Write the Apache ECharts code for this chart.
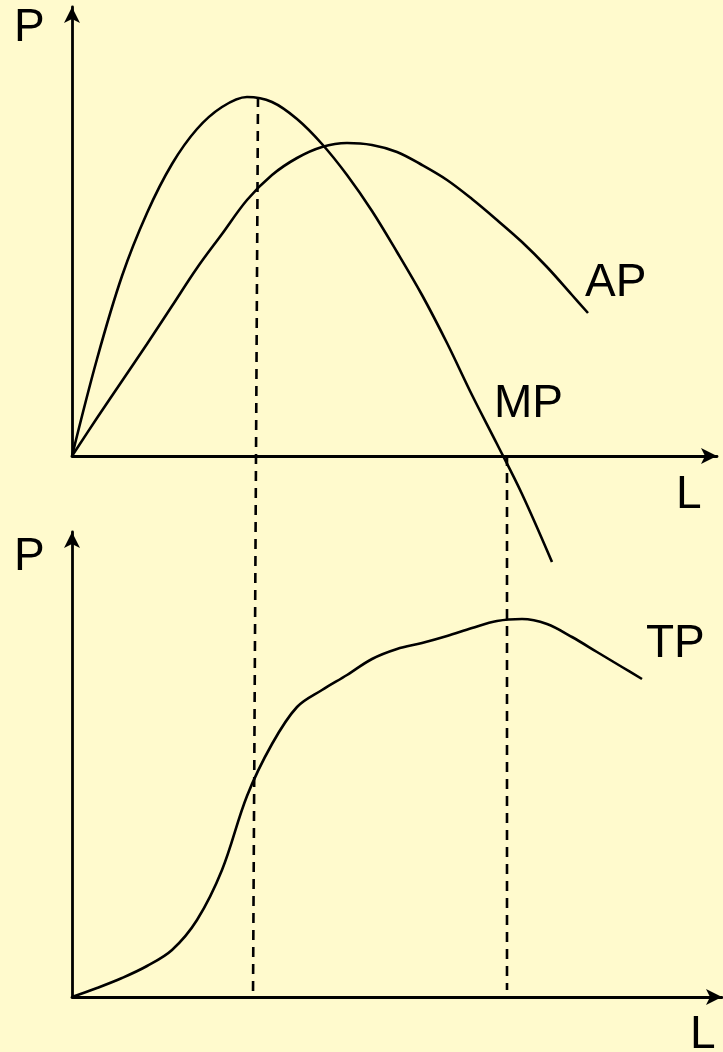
<!DOCTYPE html>
<html>
<head>
<meta charset="utf-8">
<script src="https://cdn.jsdelivr.net/npm/echarts@6/dist/echarts.min.js"></script>
<style>
  html, body { margin: 0; padding: 0; background: #FFFACD; }
  #main { width: 723px; height: 1052px; }
</style>
</head>
<body>
<div id="main"></div>
<script>
// 上图：MP、AP（横轴 L，纵轴 P）
const mpData = [
  [0, 0], [25, 97], [50, 180], [75, 243], [100, 292], [125, 327], [150, 349],
  [175, 359], [200, 354], [225, 337], [250, 312], [275, 281], [300, 245],
  [325, 204], [350, 161], [375, 113], [400, 61], [425, 12], [450, -38], [480, -106]
]
const apData = [
  [0, 0], [25, 38], [50, 75], [75, 112], [100, 150], [125, 188], [150, 222],
  [175, 256], [200, 281], [225, 298], [250, 309], [275, 313], [300, 311],
  [325, 304], [350, 291], [375, 276], [400, 257], [425, 236], [450, 214],
  [475, 189], [500, 161], [516, 143]
]
// 下图：TP
const tpData = [
  [0, 0], [25, 9], [50, 19], [75, 31], [100, 47], [125, 77], [150, 127],
  [175, 201], [200, 253], [225, 290], [250, 307], [275, 322], [300, 338],
  [325, 348], [350, 354], [375, 361], [400, 369], [425, 376], [450, 378],
  [475, 373], [500, 360], [525, 345], [550, 330], [570, 318]
]
// 虚线（画在上图坐标系里，一直延伸到下图）
const dashMaxMP = [[186, 359], [181, -541]]
const dashZeroMP = [[435, 0], [435, -534]]

const topRange = { x: 645, y: 449 }
const bottomRange = { x: 650, y: 465 }

const labels = [
  { text: 'P', x: 14, y: 28 },
  { text: 'AP', x: 585, y: 283 },
  { text: 'MP', x: 494, y: 404 },
  { text: 'L', x: 676, y: 495 },
  { text: 'P', x: 14, y: 557 },
  { text: 'TP', x: 646, y: 644 },
  { text: 'L', x: 690, y: 1035 }
]

let chart = echarts.init(document.getElementById('main'))

function axis(gridIndex, max) {
  return {
    type: 'value',
    gridIndex: gridIndex,
    min: 0,
    max: max,
    axisLine: {
      show: true,
      onZero: false,
      symbol: ['none', 'arrow'],
      symbolSize: [12, 16],
      lineStyle: { color: '#000', width: 2.8 }
    },
    axisTick: { show: false },
    axisLabel: { show: false },
    splitLine: { show: false }
  }
}

function curve(data, xi, dashed) {
  return {
    type: 'line',
    xAxisIndex: xi,
    yAxisIndex: xi,
    data: data,
    smooth: dashed ? false : 0.35,
    showSymbol: false,
    clip: false,
    silent: true,
    lineStyle: {
      color: '#000',
      width: 2.6,
      type: dashed ? [10, 7] : 'solid'
    }
  }
}

let option = {
  backgroundColor: '#FFFACD',
  animation: false,
  grid: [
    { left: 72, top: 7, width: topRange.x, height: topRange.y },
    { left: 72, top: 532, width: bottomRange.x, height: bottomRange.y }
  ],
  xAxis: [axis(0, topRange.x), axis(1, bottomRange.x)],
  yAxis: [axis(0, topRange.y), axis(1, bottomRange.y)],
  series: [
    curve(mpData, 0),
    curve(apData, 0),
    curve(dashMaxMP, 0, true),
    curve(dashZeroMP, 0, true),
    curve(tpData, 1)
  ],
  graphic: labels.map(function (l) {
    return {
      type: 'text',
      x: l.x,
      y: l.y,
      silent: true,
      style: {
        text: l.text,
        fill: '#000',
        font: '46px "Liberation Sans", Arial, sans-serif',
        textAlign: 'left',
        textVerticalAlign: 'middle'
      }
    }
  })
}
chart.setOption(option)
</script>
</body>
</html>
